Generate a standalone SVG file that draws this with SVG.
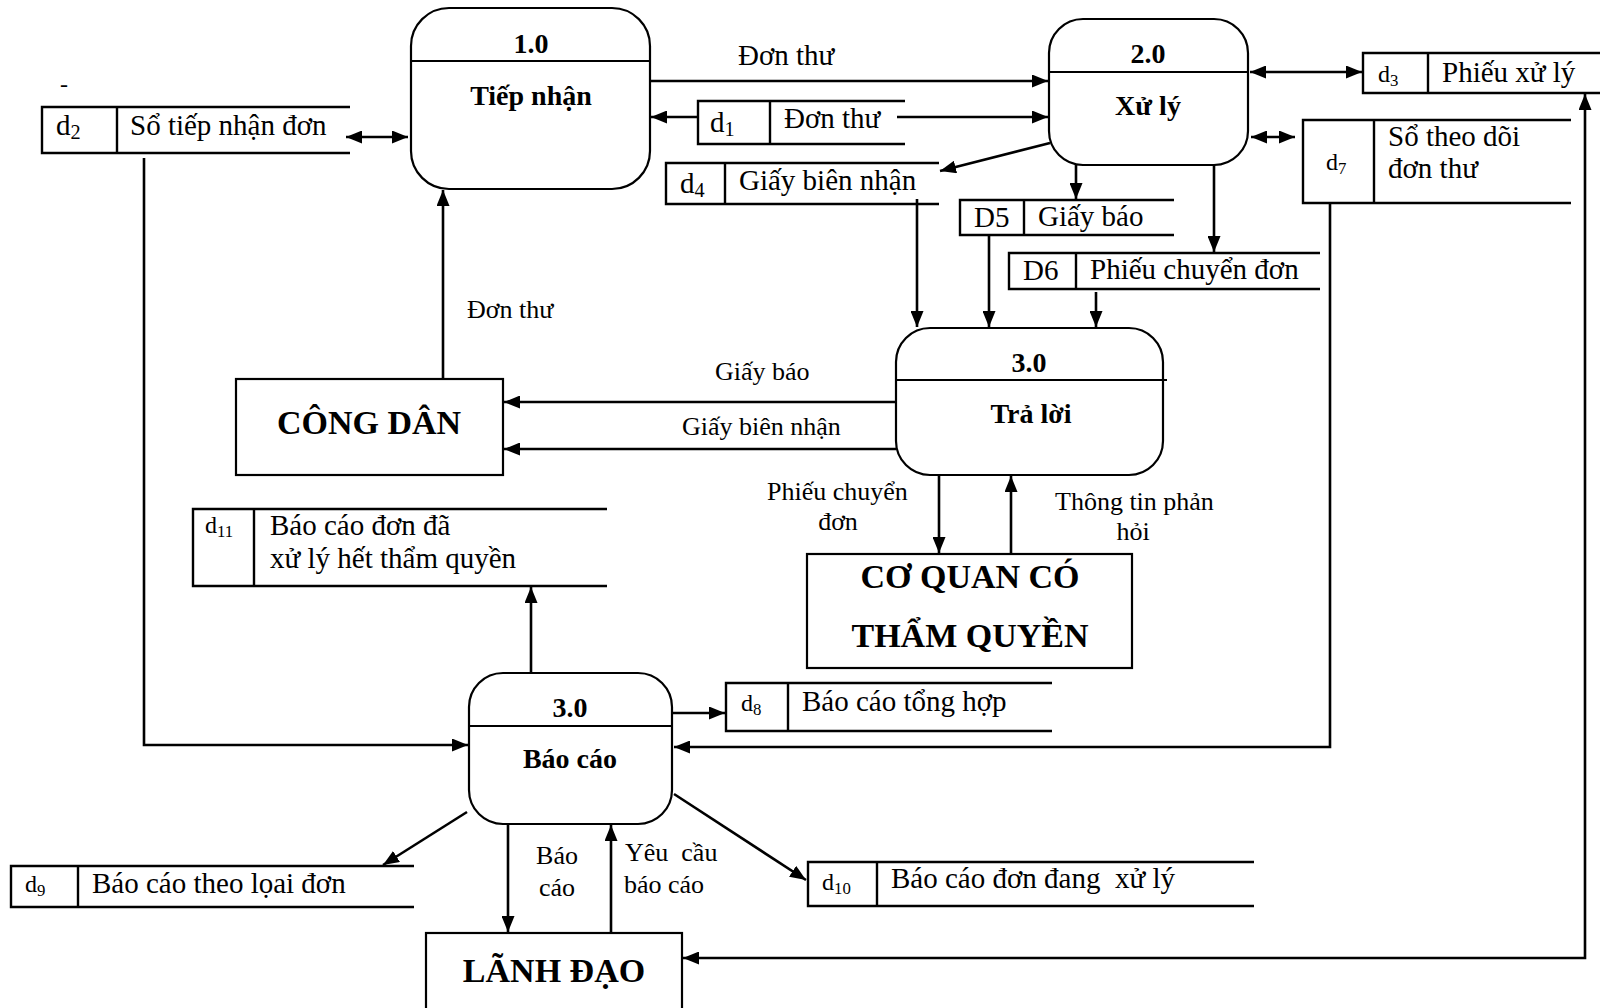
<svg xmlns="http://www.w3.org/2000/svg" width="1600" height="1008" viewBox="0 0 1600 1008">
  <style>
    .proc { fill: #fff; stroke: #000; stroke-width: 2.2; }
    .ent { fill: #fff; stroke: #000; stroke-width: 2.2; }
    .store { fill: none; stroke: #000; stroke-width: 2.4; }
    .div { stroke: #000; stroke-width: 2; }
    .flow { fill: none; stroke: #000; stroke-width: 2.6; marker-end: url(#arr); }
    .both { marker-start: url(#arr); }
    .t { font-family: "Liberation Serif", "Times New Roman", serif; fill: #000; }
    .st { font-size: 29px; }
    .sm { font-size: 24px; }
    .lb { font-size: 26px; }
    .pt { font-size: 28px; font-weight: bold; text-anchor: middle; }
    .et { font-size: 34px; font-weight: bold; text-anchor: middle; }
    .sub { font-size: 0.7em; }
    .pre { white-space: pre; }
  </style>
  <defs>
    <marker id="arr" viewBox="0 0 16 13" refX="16" refY="6.5" markerWidth="16" markerHeight="13" markerUnits="userSpaceOnUse" orient="auto-start-reverse">
      <path d="M0,0 L16,6.5 L0,13 z" fill="#000"/>
    </marker>
  </defs>
  <rect width="1600" height="1008" fill="#fff"/>

  <!-- data flows -->
  <g id="connectors">
    <path class="flow both" d="M346,137 L408,137"/>
    <path class="flow" d="M650,81 L1048,81"/>
    <path class="flow" d="M698,117 L651,117"/>
    <path class="flow" d="M897,117 L1048,117"/>
    <path class="flow both" d="M1250,72 L1362,72"/>
    <path class="flow both" d="M1251,137 L1295,137"/>
    <path class="flow" d="M1050,143 L940,171"/>
    <path class="flow" d="M1076,165 L1076,199"/>
    <path class="flow" d="M1214,165 L1214,252"/>
    <path class="flow" d="M917,199 L917,327"/>
    <path class="flow" d="M989,236 L989,327"/>
    <path class="flow" d="M1096,292 L1096,327"/>
    <path class="flow" d="M896,402 L504,402"/>
    <path class="flow" d="M896,449 L504,449"/>
    <path class="flow" d="M443,379 L443,190"/>
    <path class="flow" d="M939,475 L939,553"/>
    <path class="flow" d="M1011,554 L1011,476"/>
    <path class="flow" d="M531,673 L531,587"/>
    <path class="flow" d="M144,158 L144,745 L468,745"/>
    <path class="flow" d="M673,713 L725,713"/>
    <path class="flow" d="M1330,203 L1330,747 L674,747"/>
    <path class="flow" d="M467,812 L383,865"/>
    <path class="flow" d="M508,824 L508,932"/>
    <path class="flow" d="M611,933 L611,825"/>
    <path class="flow" d="M674,794 L806,880"/>
    <path class="flow both" d="M683,958 L1585,958 L1585,94"/>

    <text class="t st" x="738" y="65">Đơn thư</text>
    <text class="t lb" x="467" y="318">Đơn thư</text>
    <text class="t lb" x="715" y="380">Giấy báo</text>
    <text class="t lb" x="682" y="435">Giấy biên nhận</text>
    <text class="t lb" x="767" y="500">Phiếu chuyển</text>
    <text class="t lb" x="838" y="530" text-anchor="middle">đơn</text>
    <text class="t lb" x="1055" y="510">Thông tin phản</text>
    <text class="t lb" x="1133" y="540" text-anchor="middle">hỏi</text>
    <text class="t lb" x="557" y="864" text-anchor="middle">Báo</text>
    <text class="t lb" x="557" y="896" text-anchor="middle">cáo</text>
    <text class="t lb pre" x="625" y="861">Yêu  cầu</text>
    <text class="t lb" x="624" y="893">báo cáo</text>
  </g>

  <!-- processes -->
  <g id="p1">
    <rect class="proc" x="411" y="8" width="239" height="181" rx="38"/>
    <line class="div" x1="411" y1="61" x2="650" y2="61"/>
    <text class="t pt" x="531" y="53">1.0</text>
    <text class="t pt" x="531" y="105">Tiếp nhận</text>
  </g>
  <g id="p2">
    <rect class="proc" x="1049" y="19" width="199" height="146" rx="34"/>
    <line class="div" x1="1049" y1="72" x2="1248" y2="72"/>
    <text class="t pt" x="1148" y="63">2.0</text>
    <text class="t pt" x="1148" y="115">Xử lý</text>
  </g>
  <g id="p3">
    <rect class="proc" x="896" y="328" width="267" height="147" rx="34"/>
    <line class="div" x1="896" y1="380" x2="1167" y2="380"/>
    <text class="t pt" x="1029" y="372">3.0</text>
    <text class="t pt" x="1031" y="423">Trả lời</text>
  </g>
  <g id="p4">
    <rect class="proc" x="469" y="673" width="203" height="151" rx="34"/>
    <line class="div" x1="469" y1="726" x2="672" y2="726"/>
    <text class="t pt" x="570" y="717">3.0</text>
    <text class="t pt" x="570" y="768">Báo cáo</text>
  </g>

  <!-- external entities -->
  <g id="congdan">
    <rect class="ent" x="236" y="379" width="267" height="96"/>
    <text class="t et" x="369" y="434">CÔNG DÂN</text>
  </g>
  <g id="coquan">
    <rect class="ent" x="807" y="554" width="325" height="114"/>
    <text class="t et" x="970" y="588">CƠ QUAN CÓ</text>
    <text class="t et" x="970" y="647">THẨM QUYỀN</text>
  </g>
  <g id="lanhdao">
    <rect class="ent" x="426" y="933" width="256" height="90"/>
    <text class="t et" x="554" y="982">LÃNH ĐẠO</text>
  </g>

  <!-- data stores -->
  <g id="d2">
    <path class="store" d="M350,107 H42 V153 H350 M117,107 V153"/>
    <text class="t st" x="56" y="135">d<tspan class="sub" dy="4">2</tspan></text>
    <text class="t st" x="130" y="135">Sổ tiếp nhận đơn</text>
    <text class="t sm" x="60" y="92">-</text>
  </g>
  <g id="d1">
    <path class="store" d="M905,101 H698 V144 H905 M770,101 V144"/>
    <text class="t st" x="698" y="132" dx="12">d<tspan class="sub" dy="4">1</tspan></text>
    <text class="t st" x="784" y="128">Đơn thư</text>
  </g>
  <g id="d3">
    <path class="store" d="M1600,53 H1363 V93 H1600 M1428,53 V93"/>
    <text class="t sm" x="1378" y="82">d<tspan class="sub" dy="4">3</tspan></text>
    <text class="t st" x="1442" y="82">Phiếu xử lý</text>
  </g>
  <g id="d4">
    <path class="store" d="M939,163 H666 V204 H939 M725,163 V204"/>
    <text class="t st" x="680" y="193">d<tspan class="sub" dy="4">4</tspan></text>
    <text class="t st" x="739" y="190">Giấy biên nhận</text>
  </g>
  <g id="d5">
    <path class="store" d="M1174,200 H960 V235 H1174 M1024,200 V235"/>
    <text class="t st" x="974" y="227">D5</text>
    <text class="t st" x="1038" y="226">Giấy báo</text>
  </g>
  <g id="d6">
    <path class="store" d="M1320,253 H1009 V289 H1320 M1076,253 V289"/>
    <text class="t st" x="1023" y="280">D6</text>
    <text class="t st" x="1090" y="279">Phiếu chuyển đơn</text>
  </g>
  <g id="d7">
    <path class="store" d="M1571,120 H1303 V203 H1571 M1374,120 V203"/>
    <text class="t sm" x="1326" y="170">d<tspan class="sub" dy="4">7</tspan></text>
    <text class="t st" x="1388" y="146">Sổ theo dõi</text>
    <text class="t st" x="1388" y="178">đơn thư</text>
  </g>
  <g id="d11">
    <path class="store" d="M607,509 H193 V586 H607 M254,509 V586"/>
    <text class="t sm" x="205" y="533">d<tspan class="sub" dy="4">11</tspan></text>
    <text class="t st" x="270" y="535">Báo cáo đơn đã</text>
    <text class="t st" x="270" y="568">xử lý hết thẩm quyền</text>
  </g>
  <g id="d8">
    <path class="store" d="M1052,683 H726 V731 H1052 M788,683 V731"/>
    <text class="t sm" x="741" y="711">d<tspan class="sub" dy="4">8</tspan></text>
    <text class="t st" x="802" y="711">Báo cáo tổng hợp</text>
  </g>
  <g id="d9">
    <path class="store" d="M414,866 H11 V907 H414 M78,866 V907"/>
    <text class="t sm" x="25" y="892">d<tspan class="sub" dy="4">9</tspan></text>
    <text class="t st" x="92" y="893">Báo cáo theo lọai đơn</text>
  </g>
  <g id="d10">
    <path class="store" d="M1254,862 H808 V906 H1254 M877,862 V906"/>
    <text class="t sm" x="822" y="890">d<tspan class="sub" dy="4">10</tspan></text>
    <text class="t st pre" x="891" y="888">Báo cáo đơn đang  xử lý</text>
  </g>
</svg>
